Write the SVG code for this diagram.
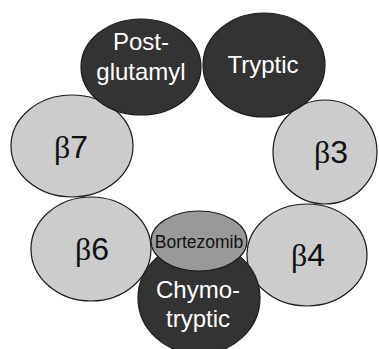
<svg xmlns="http://www.w3.org/2000/svg" width="379" height="349" viewBox="0 0 379 349">
<style>
.light{fill:#cccccc;stroke:#1a1a1a;stroke-width:1.2}
.dark{fill:#333333;stroke:#1a1a1a;stroke-width:1.2}
.mid{fill:#999999;stroke:#1a1a1a;stroke-width:1.2}
.wt{fill:#ffffff;font-family:"Liberation Sans",Arial,sans-serif;font-size:24px;text-anchor:middle}
.bt{fill:#111111;font-family:"Liberation Sans",Arial,sans-serif;font-size:32px;text-anchor:middle}
.greek{font-family:"Liberation Serif","Times New Roman",serif}
.sm{fill:#111111;font-family:"Liberation Sans",Arial,sans-serif;font-size:17.5px;text-anchor:middle}
</style>
<rect width="379" height="349" fill="#ffffff"/>
<g id="b7"><ellipse class="light" cx="72" cy="146" rx="61" ry="51"/><text class="bt" x="71" y="158"><tspan class="greek">β</tspan>7</text></g>
<g id="b3"><ellipse class="light" cx="325" cy="152" rx="52" ry="52"/><text class="bt" x="331" y="163"><tspan class="greek">β</tspan>3</text></g>
<g id="postglutamyl"><ellipse class="dark" cx="141" cy="67" rx="60" ry="48"/><text class="wt" x="141" y="50">Post-</text><text class="wt" x="141" y="80">glutamyl</text></g>
<g id="tryptic"><ellipse class="dark" cx="264" cy="65" rx="61" ry="52"/><text class="wt" x="263" y="73">Tryptic</text></g>
<g id="b6"><ellipse class="light" cx="91" cy="249" rx="60" ry="52"/><text class="bt" x="92" y="260"><tspan class="greek">β</tspan>6</text></g>
<g id="b4"><ellipse class="light" cx="307" cy="255" rx="60" ry="51"/><text class="bt" x="308" y="266"><tspan class="greek">β</tspan>4</text></g>
<g id="chymotryptic"><ellipse class="dark" cx="199" cy="298" rx="61" ry="56"/><text class="wt" x="198" y="298" font-size="25">Chymo-</text><text class="wt" x="198" y="327" font-size="25">tryptic</text></g>
<g id="bortezomib"><ellipse class="mid" cx="199" cy="241" rx="48" ry="30"/><text class="sm" x="199" y="248">Bortezomib</text></g>
<g id="connectors"></g>
</svg>
